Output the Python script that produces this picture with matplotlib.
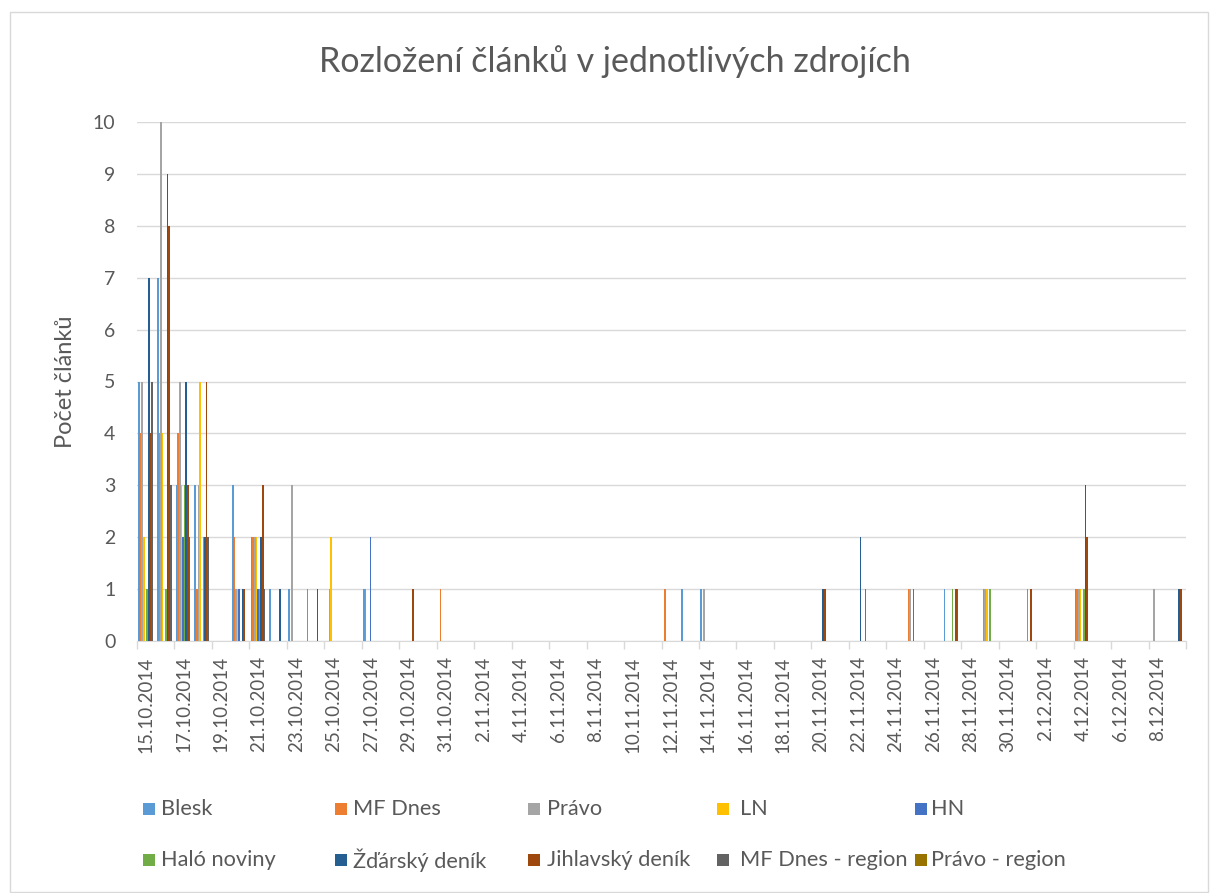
import numpy as np
import pandas as pd
import matplotlib
matplotlib.use('Agg')
import matplotlib.pyplot as plt
from matplotlib.patches import Rectangle

plt.rcParams['font.family'] = ['Lato', 'DejaVu Sans']

# categories: one per day, 15.10.2014 - 9.12.2014
dates = pd.date_range('2014-10-15', '2014-12-09')
date_labels = [f'{d.day}.{d.month}.{d.year}' for d in dates]

series_names = ['Blesk', 'MF Dnes', 'Právo', 'LN', 'HN',
                'Haló noviny', 'Žďárský deník', 'Jihlavský deník',
                'MF Dnes - region', 'Právo - region']
colors = ['#5B9BD5', '#ED7D31', '#A5A5A5', '#FFC000', '#4472C4',
          '#70AD47', '#255E91', '#9E480E', '#636363', '#997300']

# values, 10 days per line
blesk = [5, 7, 3, 3, 0, 3, 2, 1, 1, 1,
         0, 0, 1, 0, 0, 0, 0, 0, 0, 0,
         0, 0, 0, 0, 0, 0, 0, 0, 0, 1,
         1, 0, 0, 0, 0, 0, 0, 0, 0, 0,
         0, 0, 0, 1, 0, 0, 0, 0, 0, 0,
         1, 0, 0, 0, 0, 0]
mf_dnes = [4, 4, 4, 1, 0, 2, 2, 0, 0, 0,
           0, 0, 1, 0, 0, 0, 1, 0, 0, 0,
           0, 0, 0, 0, 0, 0, 0, 0, 1, 0,
           0, 0, 0, 0, 0, 0, 0, 0, 0, 0,
           0, 1, 0, 0, 0, 1, 0, 0, 0, 0,
           1, 0, 0, 0, 0, 0]
pravo = [5, 10, 5, 3, 0, 1, 2, 0, 3, 0,
         1, 0, 0, 0, 0, 0, 0, 0, 0, 0,
         0, 0, 0, 0, 0, 0, 0, 0, 0, 0,
         1, 0, 0, 0, 0, 0, 0, 0, 0, 0,
         0, 1, 0, 0, 0, 1, 0, 0, 0, 0,
         1, 0, 0, 0, 1, 0]
ln = [2, 4, 3, 5, 0, 1, 2, 0, 0, 0,
      2, 0, 0, 0, 0, 0, 0, 0, 0, 0,
      0, 0, 0, 0, 0, 0, 0, 0, 0, 0,
      0, 0, 0, 0, 0, 0, 0, 0, 0, 0,
      0, 0, 0, 0, 0, 1, 0, 0, 0, 0,
      1, 0, 0, 0, 0, 0]
hn = [0, 0, 2, 0, 0, 1, 1, 0, 0, 0,
      0, 0, 2, 0, 0, 0, 0, 0, 0, 0,
      0, 0, 0, 0, 0, 0, 0, 0, 0, 0,
      0, 0, 0, 0, 0, 0, 0, 0, 0, 0,
      0, 1, 0, 0, 0, 0, 0, 0, 0, 0,
      0, 0, 0, 0, 0, 0]
halo = [1, 1, 3, 2, 0, 0, 1, 0, 0, 0,
        0, 0, 0, 0, 0, 0, 0, 0, 0, 0,
        0, 0, 0, 0, 0, 0, 0, 0, 0, 0,
        0, 0, 0, 0, 0, 0, 0, 0, 0, 0,
        0, 0, 0, 1, 0, 1, 0, 1, 0, 0,
        1, 0, 0, 0, 0, 0]
zdar = [7, 9, 5, 2, 0, 1, 2, 1, 0, 1,
        0, 0, 0, 0, 0, 0, 0, 0, 0, 0,
        0, 0, 0, 0, 0, 0, 0, 0, 0, 0,
        0, 0, 0, 0, 0, 0, 1, 0, 2, 0,
        0, 0, 0, 0, 0, 0, 0, 0, 0, 0,
        3, 0, 0, 0, 0, 1]
jihl = [4, 8, 3, 5, 0, 1, 3, 0, 0, 0,
        0, 0, 0, 0, 1, 0, 0, 0, 0, 0,
        0, 0, 0, 0, 0, 0, 0, 0, 0, 0,
        0, 0, 0, 0, 0, 0, 1, 0, 0, 0,
        0, 0, 0, 1, 0, 0, 0, 1, 0, 0,
        2, 0, 0, 0, 0, 1]
mf_region = [5, 3, 2, 2, 0, 0, 1, 0, 0, 0,
             0, 0, 0, 0, 0, 0, 0, 0, 0, 0,
             0, 0, 0, 0, 0, 0, 0, 0, 0, 0,
             0, 0, 0, 0, 0, 0, 0, 0, 0, 0,
             0, 0, 0, 1, 0, 0, 0, 0, 0, 0,
             0, 0, 0, 0, 0, 0]
pravo_region = [0, 0, 0, 0, 0, 0, 0, 0, 0, 0,
                0, 0, 0, 0, 0, 0, 0, 0, 0, 0,
                0, 0, 0, 0, 0, 0, 0, 0, 0, 0,
                0, 0, 0, 0, 0, 0, 0, 0, 1, 0,
                0, 0, 0, 0, 0, 0, 0, 0, 0, 0,
                0, 0, 0, 0, 0, 0]

all_series = [blesk, mf_dnes, pravo, ln, hn, halo, zdar, jihl, mf_region, pravo_region]

W, H = 1210, 893
txt = '#595959'
grid = '#D9D9D9'

fig = plt.figure(figsize=(W / 100, H / 100), dpi=100)
fig.patches.append(Rectangle((10 / W, 1 / H), 1198 / W, 880 / H, transform=fig.transFigure,
                             fill=False, edgecolor=grid, linewidth=1))

ax = fig.add_axes([137 / W, 1 - 641 / H, (1186 - 137) / W, (641 - 122) / H])

x = np.arange(len(dates))
n = len(all_series)
w = 1 / (n + 1.5)
for i, vals in enumerate(all_series):
    ax.bar(x - n * w / 2 + (i + 0.5) * w, vals, width=w, color=colors[i], linewidth=0, zorder=3)

ax.set_xlim(-0.5, len(dates) - 0.5)
ax.set_ylim(0, 10)
ax.set_yticks(range(0, 11))
ax.yaxis.grid(True, color=grid, linewidth=1, zorder=0)
for s in ['top', 'right', 'left']:
    ax.spines[s].set_visible(False)
ax.spines['bottom'].set_color(grid)
ax.spines['bottom'].set_zorder(1)

ax.set_xticks(x[::2])
ax.set_xticklabels(date_labels[::2], rotation=90, fontsize=13.5, color=txt)
ax.set_xticks(np.arange(-0.5, len(dates), 2), minor=True)
ax.tick_params(axis='x', which='major', length=0, pad=11)
ax.tick_params(axis='x', which='minor', length=6, color=grid, width=1)
ax.tick_params(axis='y', length=0, pad=15.5, labelsize=14, labelcolor=txt)

fig.text(615 / W, 1 - 62 / H, 'Rozložení článků v jednotlivých zdrojích',
         ha='center', va='center', fontsize=24.5, color=txt)
fig.text(66 / W, 1 - 382 / H, 'Počet článků', rotation=90,
         ha='center', va='center', fontsize=17, color=txt)

# legend, two rows of five
mark_x = [143, 335, 528, 717, 915]
text_x = [161, 353, 547, 740, 931]
rows_y = [809, 860]
for i, name in enumerate(series_names):
    r, c = divmod(i, 5)
    fig.patches.append(Rectangle((mark_x[c] / W, 1 - (rows_y[r] + 6) / H), 12 / W, 12 / H,
                                 transform=fig.transFigure, facecolor=colors[i], edgecolor='none'))
    fig.text(text_x[c] / W, 1 - rows_y[r] / H, name, ha='left', va='center',
             fontsize=15.7, color=txt)

fig.savefig('out.png', dpi=100)
